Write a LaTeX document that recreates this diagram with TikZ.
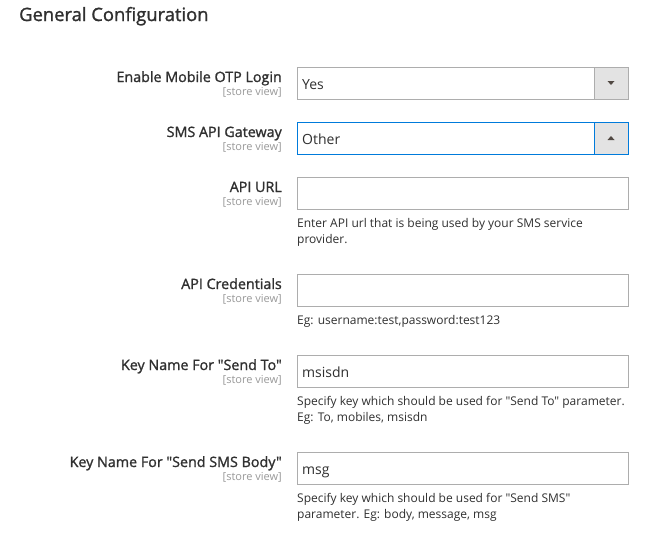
\documentclass[tikz,border=0pt]{standalone}
\usepackage{fontspec}
\setmainfont{Open Sans}[Ligatures=TeXOff]
\newfontfamily\sbfont{Open Sans}[FakeBold=1.3,Ligatures=TeXOff]
\newcommand{\dq}{\symbol{34}}
\definecolor{txt}{HTML}{303030}
\definecolor{muted}{HTML}{999999}
\definecolor{brd}{HTML}{ADADAD}
\definecolor{btn}{HTML}{E3E3E3}
\definecolor{focus}{HTML}{007BDB}
\definecolor{arr}{HTML}{514943}
\tikzset{
  lbl/.style={anchor=base east, inner sep=0pt, text=txt, font=\sbfont\fontsize{14.3}{16}\selectfont},
  sview/.style={anchor=base east, inner sep=0pt, text=muted, font=\fontsize{11}{13}\selectfont},
  val/.style={anchor=base west, inner sep=0pt, text=txt, font=\fontsize{14}{16}\selectfont},
  note/.style={anchor=base west, inner sep=0pt, text=txt, font=\fontsize{12}{14}\selectfont},
  field/.style={draw=brd, line width=1pt, fill=white},
  ffield/.style={draw=focus, line width=1pt, fill=white},
  ttl/.style={anchor=base west, inner sep=0pt, text=txt, font=\sbfont\fontsize{18.4}{22}\selectfont}
}
\begin{document}
\begin{tikzpicture}[x=1pt,y=-1pt]
\useasboundingbox[fill=white] (0,0) rectangle (646,539);
\node[ttl] (title) at (19,21) {General Configuration};

% Row 1
\node[lbl] (l1) at (282,82) {Enable Mobile OTP Login};
\node[sview] (s1) at (282,95) {[store view]};
\draw[field] (297.5,67.5) rectangle (628.5,99.5);
\draw[draw=brd, line width=1pt, fill=btn] (594.5,67.5) rectangle (628.5,99.5);
\fill[arr] (607.5,81) -- (614.5,81) -- (611,85) -- cycle;
\node[val] (v1) at (302,89) {Yes};

% Row 2
\node[lbl] (l2) at (282,137) {SMS API Gateway};
\node[sview] (s2) at (282,150) {[store view]};
\draw[ffield] (297.5,122.5) rectangle (628.5,154.5);
\draw[draw=focus, line width=1pt, fill=btn] (594.5,122.5) rectangle (628.5,154.5);
\fill[arr] (607.5,140) -- (614.5,140) -- (611,136) -- cycle;
\node[val] (v2) at (302,144) {Other};

% Row 3
\node[lbl] (l3) at (282,192) {API URL};
\node[sview] (s3) at (282,205) {[store view]};
\draw[field] (297.5,177.5) rectangle (628.5,209.5);
\node[note] (n3a) at (297,227) {Enter API url that is being used by your SMS service};
\node[note] (n3b) at (297,243) {provider.};

% Row 4
\node[lbl] (l4) at (282,289) {API Credentials};
\node[sview] (s4) at (282,302) {[store view]};
\draw[field] (297.5,274.5) rectangle (628.5,306.5);
\node[note] (n4) at (297,324) {Eg: username:test,password:test123};

% Row 5
\node[lbl] (l5) at (282,370) {Key Name For \dq Send To\dq};
\node[sview] (s5) at (282,383) {[store view]};
\draw[field] (297.5,355.5) rectangle (628.5,387.5);
\node[val] (v5) at (302,377) {msisdn};
\node[note] (n5a) at (297,405) {Specify key which should be used for \dq Send To\dq{} parameter.};
\node[note] (n5b) at (297,421) {Eg: To, mobiles, msisdn};

% Row 6
\node[lbl] (l6) at (282,467) {Key Name For \dq Send SMS Body\dq};
\node[sview] (s6) at (282,480) {[store view]};
\draw[field] (297.5,452.5) rectangle (628.5,484.5);
\node[val] (v6) at (302,474) {msg};
\node[note] (n6a) at (297,502) {Specify key which should be used for \dq Send SMS\dq};
\node[note] (n6b) at (297,518) {parameter. Eg: body, message, msg};
\end{tikzpicture}
\end{document}
